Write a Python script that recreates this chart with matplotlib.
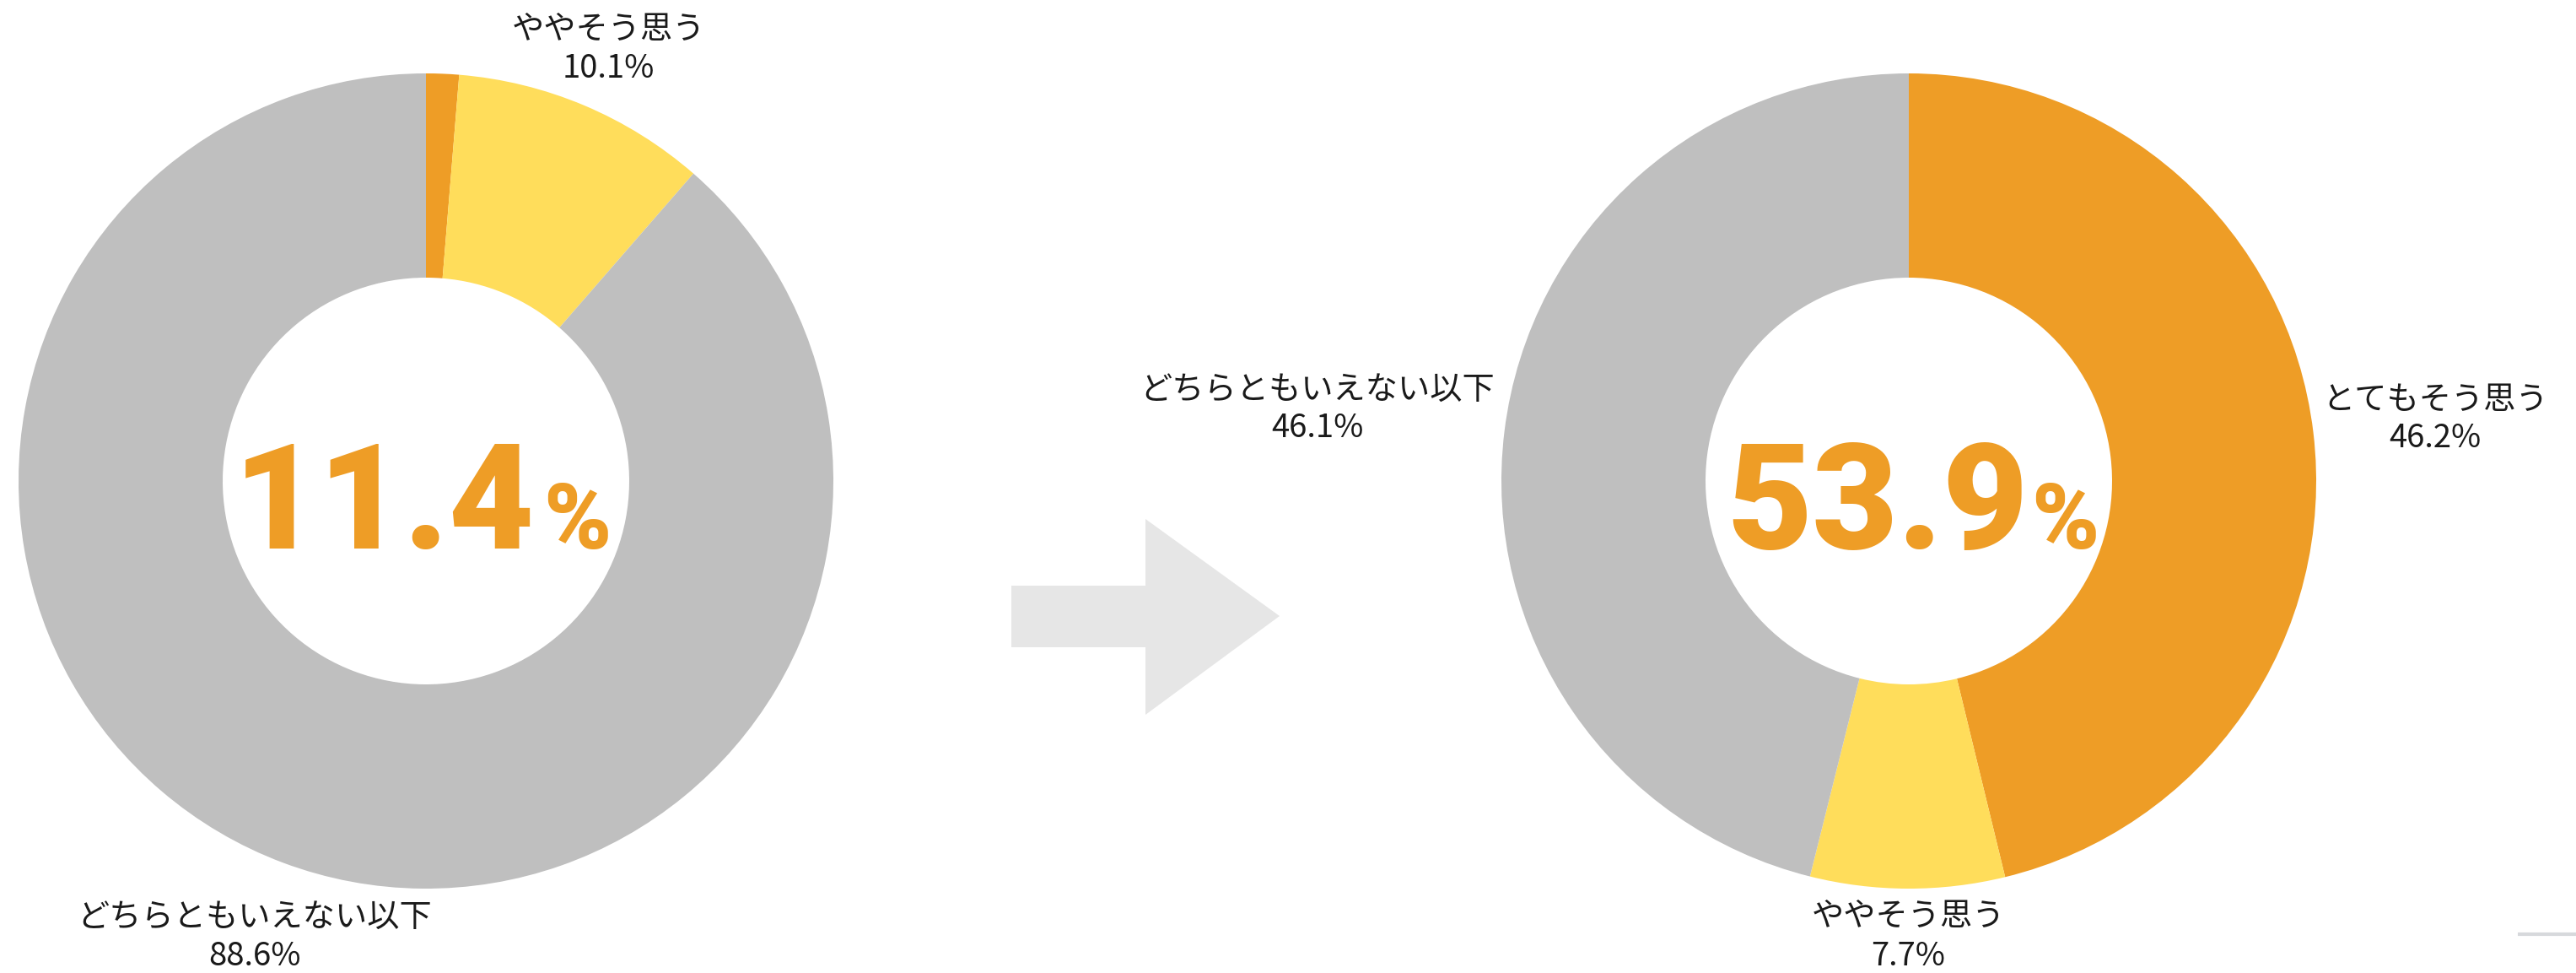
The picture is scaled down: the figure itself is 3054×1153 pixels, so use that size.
import matplotlib
matplotlib.use("Agg")
import matplotlib.pyplot as plt

# before / after survey answers (%)
categories = ["とてもそう思う", "ややそう思う", "どちらともいえない以下"]
before_values = [1.3, 10.1, 88.6]
after_values = [46.2, 7.7, 46.1]
before_total = "11.4"
after_total = "53.9"

colors = ["#EE9D26", "#FFDD5B", "#BFBFBF"]

W, H = 3054, 1153
fig = plt.figure(figsize=(W / 100, H / 100), dpi=100)
ax = fig.add_axes([0, 0, 1, 1])

R = 483
ring = 242
left_c = (505, 570)
right_c = (2263, 570)

for vals, c in [(before_values, left_c), (after_values, right_c)]:
    ax.pie(vals, colors=colors, center=c, radius=R, startangle=-90,
           counterclock=True, wedgeprops=dict(width=ring, linewidth=0))

ax.set_xlim(0, W)
ax.set_ylim(H, 0)
ax.set_aspect("equal")
ax.axis("off")

# arrow between the two donuts
ax.fill([1199, 1358, 1358, 1517, 1358, 1358, 1199],
        [694, 694, 615, 730, 847, 767, 767], color="#E6E6E6", lw=0)

# big totals in the holes
big = dict(family=["Roboto", "DejaVu Sans"], weight="black", color="#EE9D26")
ax.text(634, 650, before_total, ha="right", va="baseline", fontsize=126, **big)
ax.text(644, 650, "%", ha="left", va="baseline", fontsize=78, **big)
ax.text(2405, 650, after_total, ha="right", va="baseline", fontsize=126, **big)
ax.text(2408, 650, "%", ha="left", va="baseline", fontsize=78, **big)

# slice labels
lab = dict(family=["Noto Sans CJK JP", "DejaVu Sans"], fontsize=27.5,
           color="#1a1a1a", ha="center", va="center")


def label(x, y, name, val):
    ax.text(x, y - 23, name, **lab)
    ax.text(x, y + 23, f"{val}%", **lab)


label(721, 59, categories[1], before_values[1])
label(302, 1110, categories[2], before_values[2])
label(2887, 497, categories[0], after_values[0])
label(1562, 485, categories[2], after_values[2])
label(2262, 1110, categories[1], after_values[1])

# small scrollbar mark at bottom right
ax.plot([2985, 3054], [1107, 1107], color="#D7D9DC", lw=3, solid_capstyle="butt")

fig.savefig("out.png", dpi=100, facecolor="white")
plt.close(fig)
